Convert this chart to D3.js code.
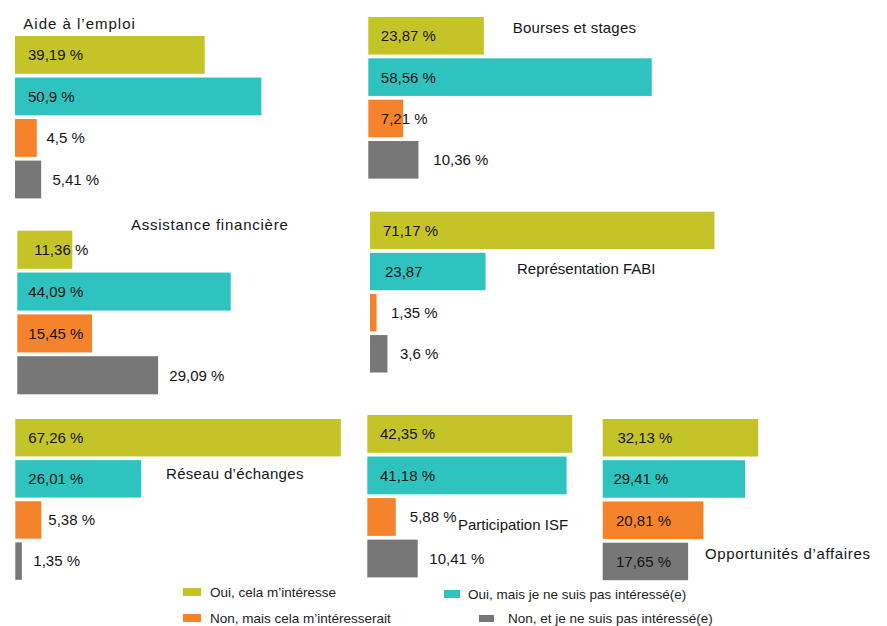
<!DOCTYPE html>
<html><head><meta charset="utf-8">
<script src="https://cdn.jsdelivr.net/npm/d3@7"></script>
<style>
body{margin:0;background:#fff}
svg{display:block}
text{font-family:"Liberation Sans",Arial,sans-serif}
</style>
</head><body>
<svg id="chart" width="887" height="626"></svg>
<script>
// ---- data ----
const series = ["Oui, cela m’intéresse", "Oui, mais je ne suis pas intéressé(e)", "Non, mais cela m’intéresserait", "Non, et je ne suis pas intéressé(e)"];
const panelTitles = ["Aide à l’emploi", "Bourses et stages", "Assistance financière", "Représentation FABI", "Réseau d’échanges", "Participation ISF", "Opportunités d’affaires"];
const aideEmploi      = [39.19, 50.9, 4.5, 5.41];
const boursesStages   = [23.87, 58.56, 7.21, 10.36];
const assistanceFin   = [11.36, 44.09, 15.45, 29.09];
const representation  = [71.17, 23.87, 1.35, 3.6];
const reseauEchanges  = [67.26, 26.01, 5.38, 1.35];
const participationISF= [42.35, 41.18, 5.88, 10.41];
const opportunites    = [32.13, 29.41, 20.81, 17.65];
const panelValues = [aideEmploi, boursesStages, assistanceFin, representation, reseauEchanges, participationISF, opportunites];
const valueLabels = [
  ["39,19 %", "50,9 %", "4,5 %", "5,41 %"],
  ["23,87 %", "58,56 %", "7,21 %", "10,36 %"],
  ["11,36 %", "44,09 %", "15,45 %", "29,09 %"],
  ["71,17 %", "23,87", "1,35 %", "3,6 %"],
  ["67,26 %", "26,01 %", "5,38 %", "1,35 %"],
  ["42,35 %", "41,18 %", "5,88 %", "10,41 %"],
  ["32,13 %", "29,41 %", "20,81 %", "17,65 %"]
];

// ---- layout / style (kept separate from data) ----
const colors = ["#c4c428", "#2ec3bf", "#f5832b", "#777777"];
const layout = [
  {x: 15,    y: 36,    step: 40.6, tx: 23.3, ty: 29.3, ls: 1.0,  dx: [13, 13, 31.5, 37.5]},
  {x: 368.3, y: 17,    step: 40.4, tx: 512.7,ty: 33.4, ls: 0.2,  dx: [12.5, 12.5, 12.5, 65]},
  {x: 17.3,  y: 230.7, step: 40.9, tx: 131,  ty: 230,  ls: 0.75, dx: [17, 11, 11, 152]},
  {x: 370,   y: 211.7, step: 40.2, tx: 517,  ty: 274,  ls: 0,    dx: [13, 15, 21, 30]},
  {x: 15.3,  y: 419,   step: 40.2, tx: 166,  ty: 479,  ls: 0.3,  dx: [13, 13, 33, 18]},
  {x: 367.3, y: 415,   step: 40.6, tx: 458,  ty: 530,  ls: 0,    dx: [12.7, 12.7, 42.5, 62]},
  {x: 602.7, y: 419,   step: 40.3, tx: 705,  ty: 559,  ls: 0.65, dx: [14.7, 10.7, 13.3, 13.3]}
];
const legendLayout = [
  {sx: 183, sy: 588, sw: 18, sh: 8, tx: 210, ty: 592},
  {sx: 444, sy: 590, sw: 16, sh: 8, tx: 468, ty: 594},
  {sx: 183, sy: 614, sw: 18, sh: 8, tx: 210, ty: 618},
  {sx: 479, sy: 615, sw: 15, sh: 7, tx: 508, ty: 618}
];

const svg = d3.select("#chart");
const x = d3.scaleLinear().domain([0, 100]).range([0, 484]);

panelValues.forEach((vals, p) => {
  const L = layout[p];
  const y = d3.scaleBand().domain(series).range([L.y, L.y + 4 * L.step]).paddingInner(0.09);
  const g = svg.append("g");
  g.selectAll("rect").data(vals).join("rect")
    .attr("x", L.x)
    .attr("y", (d, i) => y(series[i]))
    .attr("width", d => x(d))
    .attr("height", y.bandwidth())
    .attr("fill", (d, i) => colors[i]);
  g.selectAll("text.val").data(vals).join("text")
    .attr("class", "val")
    .attr("x", (d, i) => L.x + L.dx[i])
    .attr("y", (d, i) => y(series[i]) + y.bandwidth() / 2)
    .attr("dy", "0.36em")
    .attr("font-size", 15)
    .attr("fill", "#151515")
    .text((d, i) => valueLabels[p][i]);
  g.append("text")
    .attr("x", L.tx).attr("y", L.ty)
    .attr("font-size", 15)
    .attr("letter-spacing", L.ls)
    .attr("fill", "#151515")
    .text(panelTitles[p]);
});

const leg = svg.append("g");
series.forEach((s, i) => {
  const l = legendLayout[i];
  leg.append("rect").attr("x", l.sx).attr("y", l.sy).attr("width", l.sw).attr("height", l.sh).attr("fill", colors[i]);
  leg.append("text").attr("x", l.tx).attr("y", l.ty).attr("dy", "0.35em")
    .attr("font-size", 13.5).attr("fill", "#222").text(s);
});
</script>
</body></html>
